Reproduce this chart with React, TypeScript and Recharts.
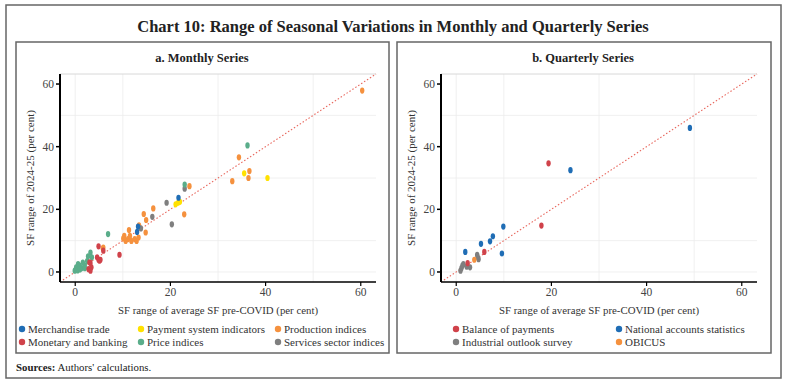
import React from "react";
import {
  ScatterChart,
  Scatter,
  XAxis,
  YAxis,
  CartesianGrid,
  ReferenceLine,
} from "recharts";

type Pt = { x: number; y: number };

// ---------- Monthly series (panel a) ----------
const merchandiseTrade: Pt[] = [
  { x: 21.7, y: 23.7 },
  { x: 13.2, y: 14.5 },
  { x: 13.0, y: 12.8 },
];
const paymentSystem: Pt[] = [
  { x: 35.5, y: 31.5 },
  { x: 40.4, y: 30.0 },
  { x: 21.1, y: 21.6 },
  { x: 21.6, y: 22.1 },
  { x: 22.0, y: 22.4 },
];
const productionIndices: Pt[] = [
  { x: 60.3, y: 57.9 },
  { x: 34.4, y: 36.6 },
  { x: 33.0, y: 29.0 },
  { x: 36.6, y: 32.2 },
  { x: 36.4, y: 30.0 },
  { x: 24.0, y: 27.4 },
  { x: 22.9, y: 18.4 },
  { x: 16.4, y: 20.3 },
  { x: 14.4, y: 18.5 },
  { x: 14.9, y: 16.6 },
  { x: 14.8, y: 12.6 },
  { x: 13.4, y: 14.9 },
  { x: 13.3, y: 11.0 },
  { x: 12.9, y: 9.9 },
  { x: 10.3, y: 11.5 },
  { x: 11.1, y: 10.5 },
  { x: 10.6, y: 9.9 },
  { x: 11.5, y: 11.5 },
  { x: 11.3, y: 13.4 },
  { x: 11.8, y: 9.9 },
  { x: 10.1, y: 10.7 },
  { x: 5.9, y: 7.8 },
  { x: 5.8, y: 7.5 },
  { x: 12.5, y: 10.5 },
];
const monetaryBanking: Pt[] = [
  { x: 4.9, y: 8.2 },
  { x: 5.9, y: 6.8 },
  { x: 9.3, y: 5.5 },
  { x: 4.6, y: 4.7 },
  { x: 5.3, y: 3.9 },
  { x: 4.9, y: 3.9 },
  { x: 3.2, y: 2.9 },
  { x: 3.4, y: 1.5 },
  { x: 2.8, y: 0.9 },
  { x: 3.0, y: 3.1 },
  { x: 3.2, y: 0.4 },
  { x: 5.1, y: 3.6 },
];
const priceIndices: Pt[] = [
  { x: 36.2, y: 40.4 },
  { x: 23.0, y: 27.9 },
  { x: 6.9, y: 12.1 },
  { x: 3.2, y: 6.2 },
  { x: 2.7, y: 5.0 },
  { x: 3.5, y: 4.7 },
  { x: 0.6, y: 2.5 },
  { x: 0.2, y: 1.5 },
  { x: -0.1, y: 0.4 },
  { x: 0.9, y: 2.0 },
  { x: 1.3, y: 1.2 },
  { x: 2.0, y: 2.0 },
  { x: 2.0, y: 1.2 },
  { x: 1.6, y: 3.0 },
  { x: 0.5, y: 0.5 },
  { x: 1.0, y: 0.8 },
  { x: 2.5, y: 3.5 },
];
const servicesSector: Pt[] = [
  { x: 23.0, y: 26.6 },
  { x: 19.2, y: 22.1 },
  { x: 20.3, y: 15.2 },
  { x: 16.2, y: 17.6 },
  { x: 13.8, y: 13.9 },
];

// ---------- Quarterly series (panel b) ----------
const balanceOfPayments: Pt[] = [
  { x: 19.4, y: 34.7 },
  { x: 17.9, y: 14.8 },
  { x: 5.9, y: 6.4 },
  { x: 2.4, y: 2.8 },
];
const nationalAccounts: Pt[] = [
  { x: 49.1, y: 46.0 },
  { x: 24.0, y: 32.5 },
  { x: 9.9, y: 14.5 },
  { x: 7.7, y: 11.4 },
  { x: 7.1, y: 9.8 },
  { x: 5.2, y: 9.0 },
  { x: 1.9, y: 6.4 },
  { x: 9.6, y: 5.9 },
];
const industrialOutlook: Pt[] = [
  { x: 4.4, y: 5.5 },
  { x: 4.7, y: 4.1 },
  { x: 4.5, y: 4.8 },
  { x: 1.5, y: 2.5 },
  { x: 1.1, y: 1.2 },
  { x: 2.9, y: 1.5 },
  { x: 2.2, y: 1.7 },
  { x: 0.9, y: 0.4 },
  { x: 1.3, y: 2.0 },
];
const obicus: Pt[] = [{ x: 3.8, y: 3.9 }];

const ticks = [0, 20, 40, 60];
const minorTicks = [10, 30, 50];
const DOMAIN: [number, number] = [-3.2, 63.2];

const C = {
  blue: "#1f6db5",
  yellow: "#ffe100",
  orange: "#f5913e",
  red: "#d0424a",
  green: "#5aad8a",
  gray: "#7f7f7f",
};

const FONT = "'Liberation Serif', serif";

const makeShape = (color: string) => (p: any) =>
  <ellipse cx={p.cx} cy={p.cy} rx={2.2} ry={3.1} fill={color} />;

type Series = { name: string; data: Pt[]; color: string };

function Panel({
  series,
  left,
  width,
  yAxisX,
  plotRight,
}: {
  series: Series[];
  left: number;
  width: number;
  yAxisX: number;
  plotRight: number;
}) {
  const yAxisW = 30;
  return (
    <div style={{ position: "absolute", left, top: 0 }}>
      <ScatterChart
        width={width}
        height={300}
        margin={{ top: 74, right: width - plotRight, bottom: 0, left: yAxisX - yAxisW }}
      >
        <CartesianGrid
          stroke="#ececec"
          strokeWidth={0.8}
          horizontalValues={[...ticks, ...minorTicks]}
          verticalValues={[...ticks, ...minorTicks]}
        />
        <ReferenceLine y={63.2} stroke="#d8d8d8" strokeWidth={1} ifOverflow="visible" />
        <XAxis
          type="number"
          dataKey="x"
          domain={DOMAIN}
          ticks={ticks}
          allowDataOverflow
          height={18}
          axisLine={{ stroke: "#000", strokeWidth: 1.3 }}
          tickLine={{ stroke: "#000", strokeWidth: 1.2 }}
          tickSize={4}
          tick={{ fill: "#444", fontSize: 11.5, fontFamily: FONT }}
        />
        <YAxis
          type="number"
          dataKey="y"
          domain={DOMAIN}
          ticks={ticks}
          allowDataOverflow
          width={yAxisW}
          axisLine={{ stroke: "#000", strokeWidth: 2 }}
          tickLine={{ stroke: "#000", strokeWidth: 1.5 }}
          tickSize={4}
          tick={{ fill: "#444", fontSize: 11.5, fontFamily: FONT }}
        />
        <ReferenceLine
          segment={[
            { x: DOMAIN[0], y: DOMAIN[0] },
            { x: DOMAIN[1], y: DOMAIN[1] },
          ]}
          stroke="#e8665c"
          strokeWidth={1.1}
          strokeDasharray="1.5 2"
          ifOverflow="visible"
        />
        {series.map((s) => (
          <Scatter
            key={s.name}
            name={s.name}
            data={s.data}
            fill={s.color}
            shape={makeShape(s.color)}
            isAnimationActive={false}
          />
        ))}
      </ScatterChart>
    </div>
  );
}

const leftSeries: Series[] = [
  { name: "Production indices", data: productionIndices, color: C.orange },
  { name: "Services sector indices", data: servicesSector, color: C.gray },
  { name: "Price indices", data: priceIndices, color: C.green },
  { name: "Monetary and banking", data: monetaryBanking, color: C.red },
  { name: "Payment system indicators", data: paymentSystem, color: C.yellow },
  { name: "Merchandise trade", data: merchandiseTrade, color: C.blue },
];
const rightSeries: Series[] = [
  { name: "Industrial outlook survey", data: industrialOutlook, color: C.gray },
  { name: "OBICUS", data: obicus, color: C.orange },
  { name: "Balance of payments", data: balanceOfPayments, color: C.red },
  { name: "National accounts statistics", data: nationalAccounts, color: C.blue },
];

const leftLegend = [
  { name: "Merchandise trade", color: C.blue, x: 22, y: 329 },
  { name: "Payment system indicators", color: C.yellow, x: 141, y: 329 },
  { name: "Production indices", color: C.orange, x: 278, y: 329 },
  { name: "Monetary and banking", color: C.red, x: 22, y: 342 },
  { name: "Price indices", color: C.green, x: 141, y: 342 },
  { name: "Services sector indices", color: C.gray, x: 278, y: 342 },
];
const rightLegend = [
  { name: "Balance of payments", color: C.red, x: 456, y: 329 },
  { name: "National accounts statistics", color: C.blue, x: 619, y: 329 },
  { name: "Industrial outlook survey", color: C.gray, x: 456, y: 342 },
  { name: "OBICUS", color: C.orange, x: 619, y: 342 },
];

export default function App() {
  return (
    <div
      style={{
        position: "absolute",
        left: 0,
        top: 0,
        width: 786,
        height: 386,
        background: "#fff",
        overflow: "hidden",
      }}
    >
      <svg
        width={786}
        height={386}
        style={{ position: "absolute", left: 0, top: 0 }}
      >
        <rect x={6} y={5} width={775} height={373} fill="#fff" stroke="#666" strokeWidth={1.5} />
        <rect x={16} y={42} width={373} height={311} fill="#fff" stroke="#666" strokeWidth={1.5} />
        <rect x={397} y={42} width={374} height={311} fill="#fff" stroke="#666" strokeWidth={1.5} />
        <text
          x={393}
          y={32}
          textAnchor="middle"
          fontFamily={FONT}
          fontWeight="bold"
          fontSize={16.5}
          fill="#222"
        >
          Chart 10: Range of Seasonal Variations in Monthly and Quarterly Series
        </text>
        <text x={202} y={62} textAnchor="middle" fontFamily={FONT} fontWeight="bold" fontSize={12.5} fill="#222">
          a. Monthly Series
        </text>
        <text x={583} y={62} textAnchor="middle" fontFamily={FONT} fontWeight="bold" fontSize={12.5} fill="#222">
          b. Quarterly Series
        </text>
        {[31, 412].map((x) => (
          <text
            key={x}
            x={x}
            y={178}
            textAnchor="middle"
            transform={`rotate(-90 ${x} 178)`}
            fontFamily={FONT}
            fontSize={11}
            fill="#333"
            dominantBaseline="middle"
          >
            SF range of 2024-25 (per cent)
          </text>
        ))}
        <text x={218} y={314} textAnchor="middle" fontFamily={FONT} fontSize={10.8} fill="#333">
          SF range of average SF pre-COVID (per cent)
        </text>
        <text x={599} y={314} textAnchor="middle" fontFamily={FONT} fontSize={10.8} fill="#333">
          SF range of average SF pre-COVID (per cent)
        </text>
        {[...leftLegend, ...rightLegend].map((l) => (
          <g key={l.name}>
            <circle cx={l.x} cy={l.y} r={3.2} fill={l.color} />
            <text x={l.x + 6} y={l.y + 4} fontFamily={FONT} fontSize={11} fill="#333">
              {l.name}
            </text>
          </g>
        ))}
        <text x={16} y={371} fontFamily={FONT} fontSize={10.8} fill="#222">
          <tspan fontWeight="bold">Sources:</tspan> Authors' calculations.
        </text>
      </svg>
      <Panel series={leftSeries} left={0} width={393} yAxisX={60} plotRight={376} />
      <Panel series={rightSeries} left={393} width={393} yAxisX={48} plotRight={364} />
    </div>
  );
}
